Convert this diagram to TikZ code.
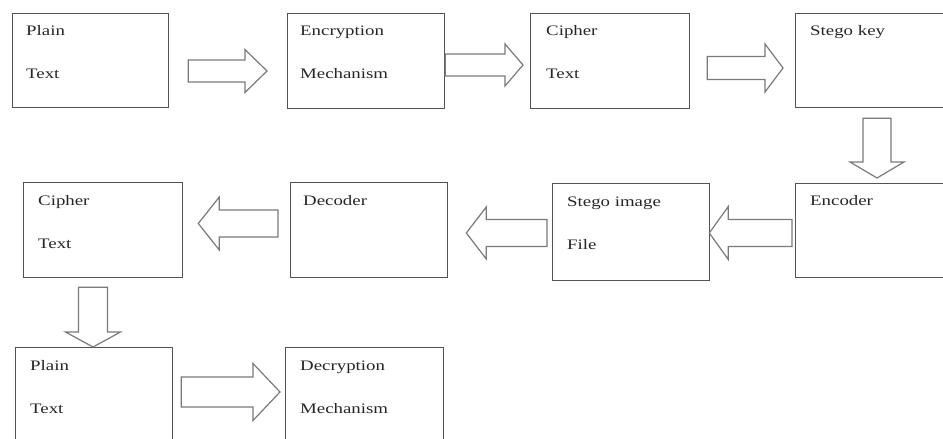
\documentclass[tikz,border=0pt]{standalone}
\usepackage{fontspec}
\setmainfont[FakeStretch=1.3]{Liberation Serif}
\usetikzlibrary{calc}

\tikzset{
  stagebox/.style={draw=black!68, line width=1.3pt, fill=white, rectangle,
    anchor=north west, inner sep=0pt, minimum width=157pt, minimum height=95pt},
  txt/.style={anchor=base west, inner sep=0pt, text=black!85,
    font=\fontsize{14.5pt}{16pt}\selectfont},
  blockarrow/.style={draw=black!52, line width=1.2pt, fill=white, line join=miter}
}

% hollow block arrow: tail, tip, half shaft width, half head width, head length
\newcommand\blockarrow[5]{%
  \coordinate (hb) at ($(#2)!#5pt!(#1)$);
  \draw[blockarrow] ($(#1)!#3pt!90:(#2)$) -- ($(hb)!#3pt!-90:(#1)$)
    -- ($(hb)!#4pt!-90:(#1)$) -- (#2) -- ($(hb)!#4pt!90:(#1)$)
    -- ($(hb)!#3pt!90:(#1)$) -- ($(#1)!#3pt!-90:(#2)$) -- cycle;
}

\begin{document}
\begin{tikzpicture}[x=1pt, y=-1pt]
  \path[use as bounding box, fill=white] (0,0) rectangle (943,439);
  \clip (0,0) rectangle (943,439);

  % first row
  \node[stagebox, minimum width=156pt, minimum height=94pt] (A) at (12,13) {};
  \node[stagebox] (B) at (287,13) {};
  \node[stagebox, minimum width=159pt] (C) at (530,13) {};
  \node[stagebox, minimum width=165pt, minimum height=94pt] (D) at (795,13) {};

  % second row
  \node[stagebox, minimum width=165pt, minimum height=94pt] (E) at (795,183) {};
  \node[stagebox, minimum height=97pt] (F) at (552,183) {};
  \node[stagebox] (G) at (290,182) {};
  \node[stagebox, minimum width=159pt] (H) at (23,182) {};

  % third row
  \node[stagebox, minimum height=100pt] (I) at (15,347) {};
  \node[stagebox, minimum width=158pt, minimum height=100pt] (J) at (285,347) {};

  % labels
  \node[txt] (A1) at ([shift={(14pt,-22.5pt)}]A.north west) {Plain};
  \node[txt] (A2) at ([shift={(14pt,-65.5pt)}]A.north west) {Text};
  \node[txt] (B1) at ([shift={(13pt,-22.5pt)}]B.north west) {Encryption};
  \node[txt] (B2) at ([shift={(13pt,-65.5pt)}]B.north west) {Mechanism};
  \node[txt] (C1) at ([shift={(16pt,-22.5pt)}]C.north west) {Cipher};
  \node[txt] (C2) at ([shift={(16pt,-65.5pt)}]C.north west) {Text};
  \node[txt] (D1) at ([shift={(15pt,-22.5pt)}]D.north west) {Stego key};
  \node[txt] (E1) at ([shift={(15pt,-22.5pt)}]E.north west) {Encoder};
  \node[txt] (F1) at ([shift={(15pt,-23pt)}]F.north west) {Stego image};
  \node[txt] (F2) at ([shift={(15pt,-66pt)}]F.north west) {File};
  \node[txt] (G1) at ([shift={(13pt,-23pt)}]G.north west) {Decoder};
  \node[txt] (H1) at ([shift={(15pt,-23pt)}]H.north west) {Cipher};
  \node[txt] (H2) at ([shift={(15pt,-66pt)}]H.north west) {Text};
  \node[txt] (I1) at ([shift={(15pt,-23pt)}]I.north west) {Plain};
  \node[txt] (I2) at ([shift={(15pt,-66pt)}]I.north west) {Text};
  \node[txt] (J1) at ([shift={(15pt,-23pt)}]J.north west) {Decryption};
  \node[txt] (J2) at ([shift={(15pt,-66pt)}]J.north west) {Mechanism};

  % arrow ends
  \coordinate (t1) at ($(A.north east)+(19,58)$);
  \coordinate (p1) at ($(B.north west)+(-20,58)$);
  \coordinate (t2) at ($(B.north east)+(0,52)$);
  \coordinate (p2) at ($(C.north west)+(-7,52)$);
  \coordinate (t3) at ($(C.north east)+(17,55)$);
  \coordinate (p3) at ($(D.north west)+(-12,55)$);
  \coordinate (t4) at ($(D.south west)+(82,10)$);
  \coordinate (p4) at ($(E.north west)+(82,-5)$);
  \coordinate (t5) at ($(E.north west)+(-3,50)$);
  \coordinate (p5) at ($(F.north east)+(-1,50)$);
  \coordinate (t6) at ($(F.north west)+(-5,50)$);
  \coordinate (p6) at ($(G.north east)+(18,51)$);
  \coordinate (t7) at ($(G.north west)+(-12,41.5)$);
  \coordinate (p7) at ($(H.north east)+(15,41.5)$);
  \coordinate (t8) at ($(H.south west)+(70,9)$);
  \coordinate (p8) at ($(I.north west)+(78,0)$);
  \coordinate (t9) at ($(I.north east)+(8,45)$);
  \coordinate (p9) at ($(J.north west)+(-5,45)$);

  % flow arrows
  \blockarrow{t1}{p1}{11}{21.5}{22}
  \blockarrow{t2}{p2}{11}{21}{18}
  \blockarrow{t3}{p3}{11.5}{24}{18}
  \blockarrow{t4}{p4}{14}{27}{16}
  \blockarrow{t5}{p5}{13.5}{26.5}{19}
  \blockarrow{t6}{p6}{13.5}{26}{20}
  \blockarrow{t7}{p7}{13.5}{26.5}{21}
  \blockarrow{t8}{p8}{14.5}{27.5}{15}
  \blockarrow{t9}{p9}{15}{28.5}{27}
\end{tikzpicture}
\end{document}
